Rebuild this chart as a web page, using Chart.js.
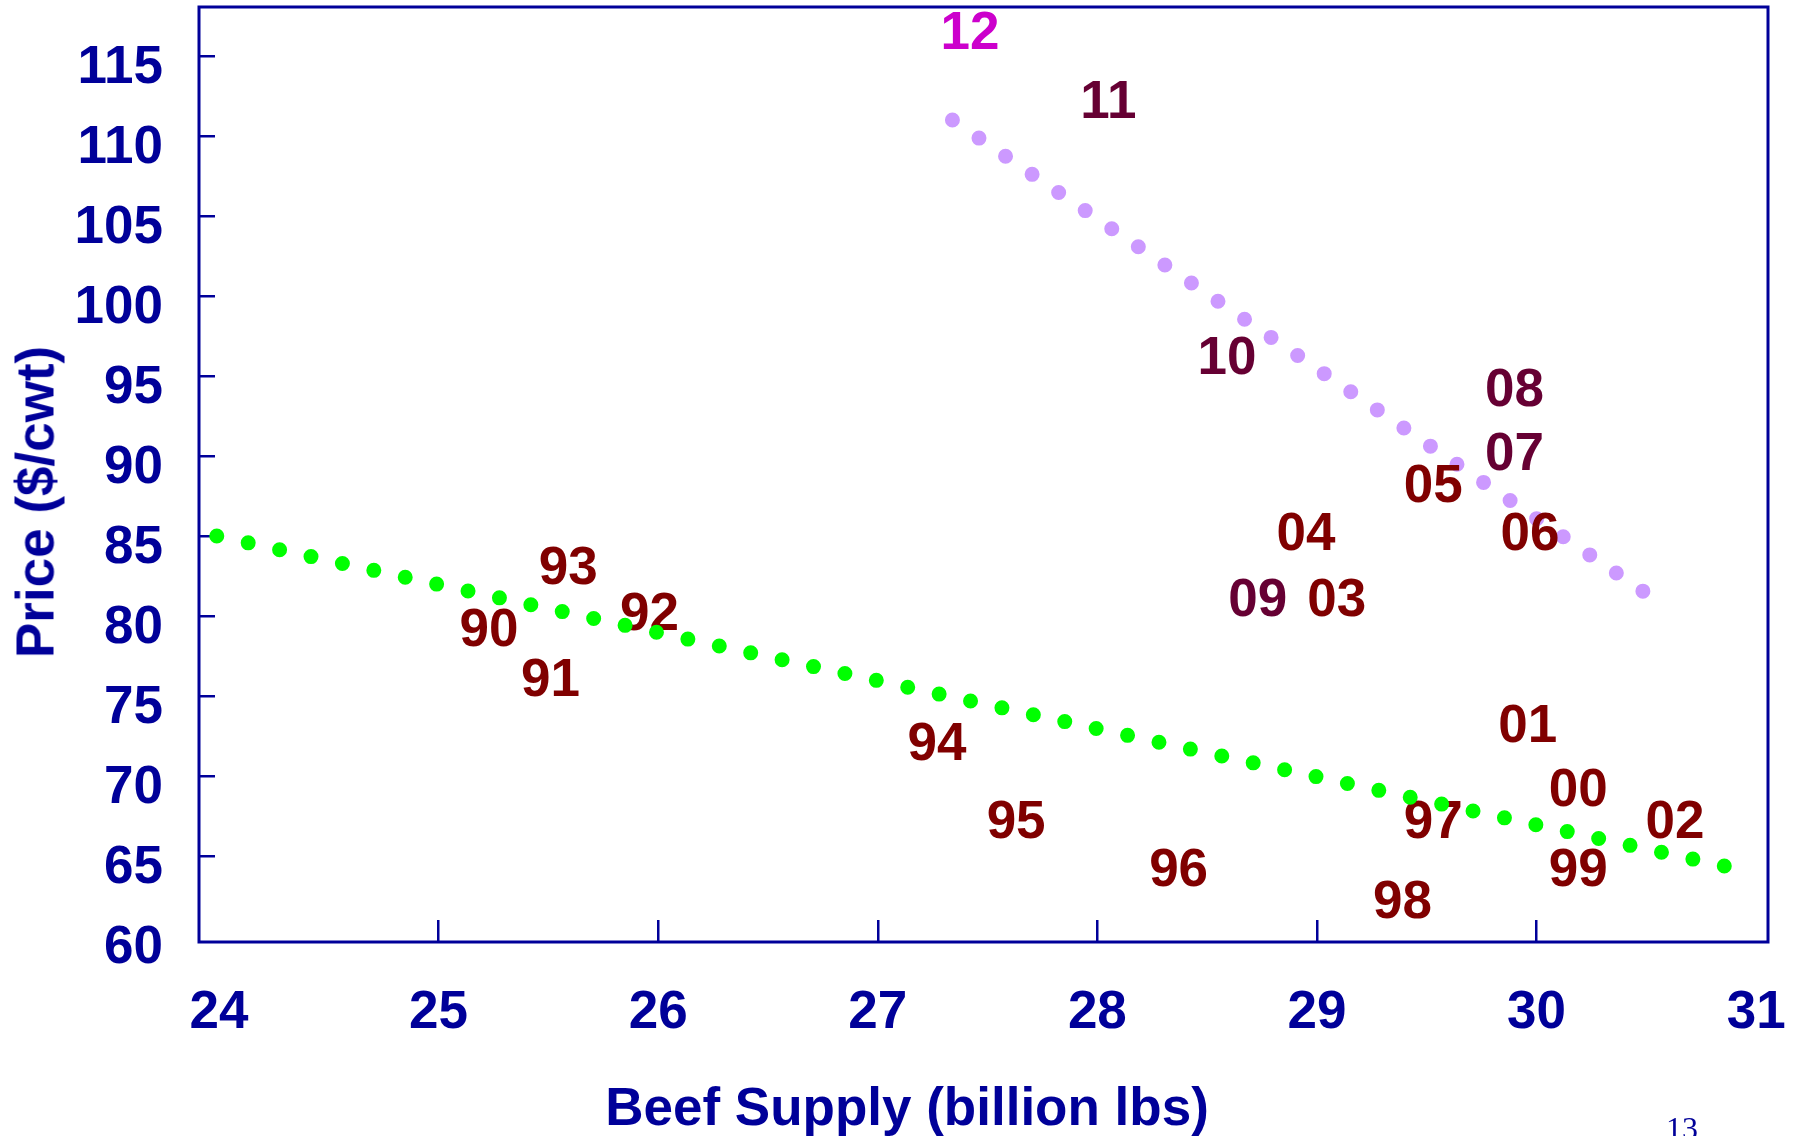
<!DOCTYPE html>
<html>
<head>
<meta charset="utf-8">
<title>Beef Supply vs Price</title>
<script src="https://cdn.jsdelivr.net/npm/chart.js@4.4.1/dist/chart.umd.min.js"></script>
<style>
  html, body { margin: 0; padding: 0; background: #fff; overflow: hidden; }
  #wrap { position: relative; width: 1793px; height: 1136px; overflow: hidden; }
  #chart { position: absolute; left: 0; top: 0; }
  .axis-title {
    position: absolute;
    font-family: "Liberation Sans", Arial, sans-serif;
    font-weight: bold;
    font-size: 53px;
    line-height: 1;
    color: #000099;
    white-space: nowrap;
  }
  #xTitle { left: 907px; top: 1106px; transform: translate(-50%, -50%); }
  #yTitle { left: 35px; top: 502px; transform: translate(-50%, -50%) rotate(-90deg); }
  #pageNo {
    position: absolute; left: 1682px; top: 1112px; transform: translateX(-50%);
    font-family: "Liberation Serif", "Times New Roman", serif;
    font-size: 32px; line-height: 1; color: #000099;
  }
</style>
</head>
<body>
<div id="wrap">
  <canvas id="chart" width="1793" height="1136"></canvas>
  <div class="axis-title" id="yTitle">Price ($/cwt)</div>
  <div class="axis-title" id="xTitle">Beef Supply (billion lbs)</div>
  <div id="pageNo">13</div>
</div>

<script>
// year labels, beef supply (billion lbs) and price ($/cwt)
const yearLabels = ['90', '91', '92', '93', '94', '95', '96', '97', '98', '99',
                    '00', '01', '02', '03', '04', '05', '06', '07', '08', '09',
                    '10', '11', '12'];
const beefSupply = [25.23, 25.51, 25.96, 25.59, 27.27, 27.63, 28.37, 29.53, 29.39, 30.19,
                    30.19, 29.96, 30.63, 29.09, 28.95, 29.53, 29.97, 29.90, 29.90, 28.73,
                    28.59, 28.05, 27.42];
const beefPrice = [79.3, 76.2, 80.3, 83.2, 72.2, 67.3, 64.3, 67.3, 62.3, 64.3,
                   69.3, 73.3, 67.3, 81.2, 85.3, 88.3, 85.3, 90.3, 94.3, 81.2,
                   96.3, 112.3, 116.6];

// trend lines (end points)
const trendEarlyX = [23.99, 30.88];
const trendEarlyY = [85.0, 64.3];
const trendLateX = [27.34, 30.49];
const trendLateY = [111.0, 81.5];

// axis ticks
const xTicks = [24, 25, 26, 27, 28, 29, 30, 31];
const yTicks = [60, 65, 70, 75, 80, 85, 90, 95, 100, 105, 110, 115];

const NAVY = '#000099';
const FONT = "'Liberation Sans', Arial, sans-serif";

Chart.defaults.font.family = FONT;

function yearColor(label) {
  const yy = parseInt(label, 10);
  const year = yy < 50 ? 2000 + yy : 1900 + yy;
  if (year >= 2012) return '#CC00CC';
  if (year >= 2007) return '#660033';
  return '#800000';
}

function toPoints(xs, ys) {
  return xs.map((x, i) => ({ x: x, y: ys[i] }));
}

// frame around the plot area
const framePlugin = {
  id: 'frame',
  beforeDatasetsDraw(chart) {
    const a = chart.chartArea;
    const ctx = chart.ctx;
    ctx.save();
    ctx.strokeStyle = NAVY;
    ctx.lineWidth = 3;
    ctx.strokeRect(a.left, a.top, a.right - a.left, a.bottom - a.top);
    ctx.restore();
  }
};

// year numbers drawn in place of point markers
const yearLabelPlugin = {
  id: 'yearLabels',
  afterDatasetDraw(chart, args) {
    if (args.index !== 1) return;
    const ctx = chart.ctx;
    ctx.save();
    ctx.font = 'bold 53px ' + FONT;
    ctx.textAlign = 'center';
    ctx.textBaseline = 'alphabetic';
    args.meta.data.forEach((pt, i) => {
      const text = yearLabels[i];
      const m = ctx.measureText(text);
      ctx.fillStyle = yearColor(text);
      ctx.fillText(text, pt.x, pt.y + m.actualBoundingBoxAscent / 2);
    });
    ctx.restore();
  }
};

const dottedLine = {
  showLine: true,
  fill: false,
  borderWidth: 15,
  borderDash: [0, 32.15],
  borderCapStyle: 'round',
  pointRadius: 0,
  pointHoverRadius: 0,
  tension: 0
};

// keep the plot area fixed: labels sit outside it, no extra edge padding
function noEdgePadding(scale) {
  scale.paddingLeft = 0;
  scale.paddingRight = 0;
  scale.paddingTop = 0;
  scale.paddingBottom = 0;
}

new Chart(document.getElementById('chart'), {
  type: 'scatter',
  data: {
    datasets: [
      Object.assign({
        label: '1990-2006 trend',
        data: toPoints(trendEarlyX, trendEarlyY),
        borderColor: '#00FF00',
        order: 1
      }, dottedLine),
      {
        label: 'Year',
        data: toPoints(beefSupply, beefPrice),
        pointRadius: 0,
        pointHoverRadius: 0,
        showLine: false,
        order: 2
      },
      Object.assign({
        label: '2005-2012 trend',
        data: toPoints(trendLateX, trendLateY),
        borderColor: '#CC99FF',
        order: 3
      }, dottedLine)
    ]
  },
  options: {
    responsive: false,
    animation: false,
    layout: { padding: { top: 7, right: 25, bottom: 0, left: 0 } },
    plugins: {
      legend: { display: false },
      tooltip: { enabled: false }
    },
    scales: {
      x: {
        type: 'linear',
        min: 23.909,
        max: 31.054,
        afterBuildTicks: scale => { scale.ticks = xTicks.map(v => ({ value: v })); },
        afterFit: scale => { scale.height = 194; noEdgePadding(scale); },
        border: { display: false },
        grid: {
          drawOnChartArea: false,
          tickLength: -22,
          lineWidth: 2.5,
          color: c => (c.index === 0 || c.index === xTicks.length - 1) ? 'rgba(0,0,0,0)' : NAVY
        },
        ticks: {
          color: NAVY,
          font: { size: 53, weight: 'bold' },
          padding: 62,
          maxRotation: 0,
          autoSkip: false
        }
      },
      y: {
        type: 'linear',
        min: 59.625,
        max: 118.06,
        afterBuildTicks: scale => { scale.ticks = yTicks.map(v => ({ value: v })); },
        afterFit: scale => { scale.width = 199; noEdgePadding(scale); },
        border: { display: false },
        grid: {
          drawOnChartArea: false,
          tickLength: -16,
          lineWidth: 2.5,
          color: c => c.index === 0 ? 'rgba(0,0,0,0)' : NAVY
        },
        ticks: {
          color: NAVY,
          font: { size: 53, weight: 'bold' },
          padding: 52,
          labelOffset: 12,
          autoSkip: false
        }
      }
    }
  },
  plugins: [framePlugin, yearLabelPlugin]
});
</script>
</body>
</html>
